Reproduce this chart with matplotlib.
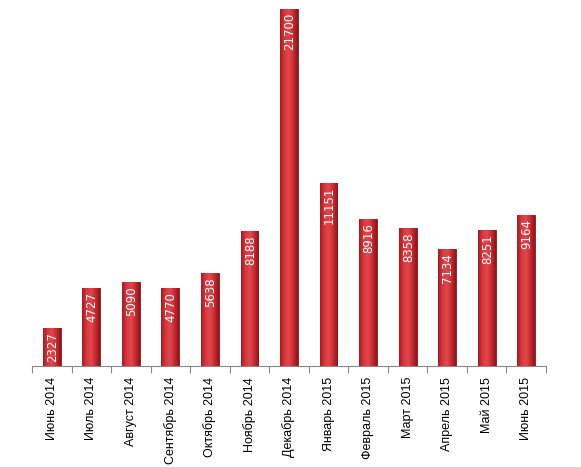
import numpy as np
import matplotlib
matplotlib.use('Agg')
import matplotlib.pyplot as plt
from matplotlib.colors import LinearSegmentedColormap

months = ['Июнь 2014', 'Июль 2014', 'Август 2014', 'Сентябрь 2014', 'Октябрь 2014',
          'Ноябрь 2014', 'Декабрь 2014', 'Январь 2015', 'Февраль 2015', 'Март 2015',
          'Апрель 2015', 'Май 2015', 'Июнь 2015']
values = [2327, 4727, 5090, 4770, 5638, 8188, 21700, 11151, 8916, 8358, 7134, 8251, 9164]

plt.rcParams['font.family'] = ['Liberation Sans', 'DejaVu Sans']

fig = plt.figure(figsize=(5.81, 4.67), dpi=100)
ax = fig.add_axes([32/581, 101/467, 514/581, 357/467])

x = np.arange(len(values))
bars = ax.bar(x, values, width=0.45, color='#c22a30', edgecolor='#8e1418', linewidth=0.6)

# horizontal shading on each bar
cmap = LinearSegmentedColormap.from_list('redbar', ['#a01c22', '#d8373e', '#e2474d', '#c62c32', '#8e1418'])
grad = np.linspace(0, 1, 64).reshape(1, -1)
for b in bars:
    x0, w, h = b.get_x(), b.get_width(), b.get_height()
    im = ax.imshow(grad, cmap=cmap, aspect='auto', extent=[x0, x0 + w, 0, h], zorder=2)
    im.set_clip_path(b)

for xi, v in zip(x, values):
    ax.text(xi + 0.02, v - 250, str(v), rotation=90, ha='center', va='top',
            color='white', fontsize=8.5, family='DejaVu Sans', zorder=3)

ax.set_xlim(-0.5, len(values) - 0.5)
ax.set_ylim(0, 21700)
ax.set_xticks(np.arange(len(values) + 1) - 0.5, minor=False)
ax.set_xticklabels([])
ax.set_xticks(x, minor=True)
ax.set_xticklabels(months, minor=True, rotation=90, fontsize=9)
ax.tick_params(axis='x', which='major', length=5, color='#888888')
ax.tick_params(axis='x', which='minor', length=0, pad=8)
ax.set_yticks([])
for s in ['top', 'right', 'left']:
    ax.spines[s].set_visible(False)
ax.spines['bottom'].set_color('#888888')

fig.savefig('out.png', dpi=100)
